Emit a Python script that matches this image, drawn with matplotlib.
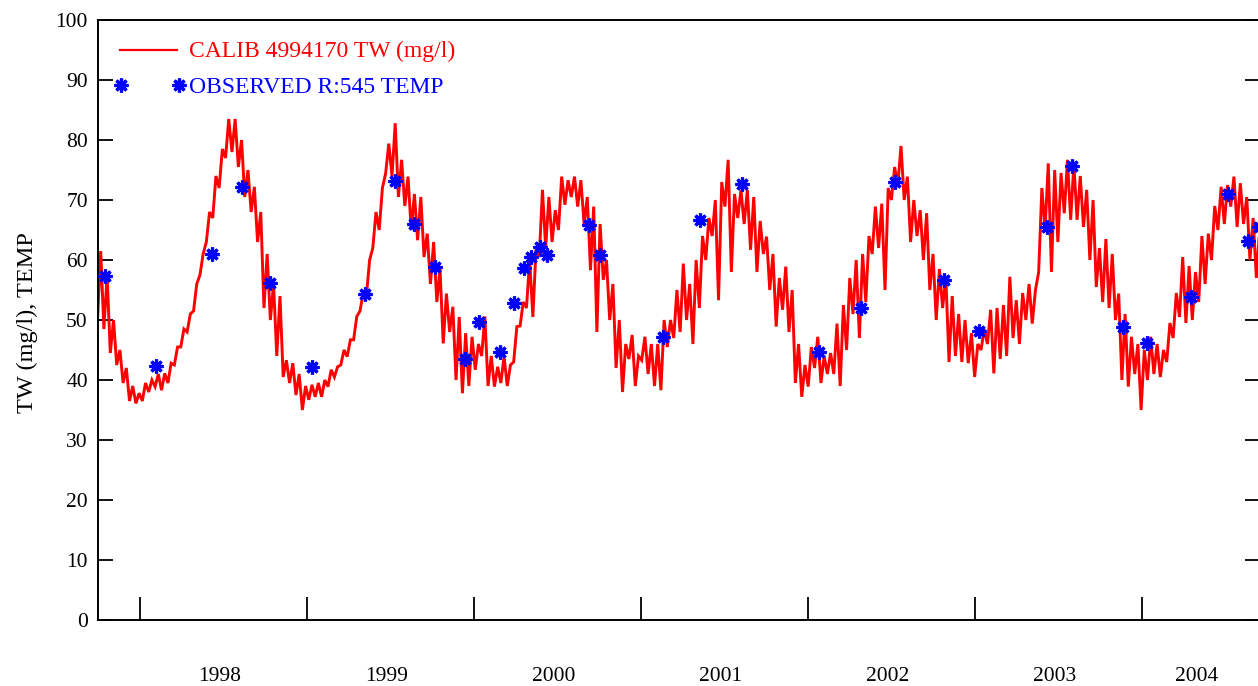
import numpy as np
import pandas as pd
import matplotlib
matplotlib.use("Agg")
import matplotlib.pyplot as plt
import matplotlib.dates as mdates
import matplotlib.transforms as mtransforms

# ---------------- data ----------------
# simulated series, read from the picture as low / high pairs every 14 days
calib_start = "1997-09-30"
calib_high = [61.5, 57.4, 50, 45, 42, 39, 37.8, 39.5, 40, 41, 41.1, 42.8, 45.5, 48.5, 51, 56,
              61, 68, 74, 78.5, 83.5, 83.5, 80, 75, 72.2, 68, 61, 56, 54, 43.3, 42.8, 41,
              39, 39.2, 39.5, 40, 41.7, 42.2, 45, 46.7, 50.6, 54.5, 60, 68, 72, 79.4, 82.8, 76.7,
              73.9, 71, 70.5, 64.4, 63, 58.5, 54.4, 52.2, 50.5, 47.8, 47.2, 46, 50.6, 44, 42.2, 43.9,
              42.5, 48.9, 53, 60, 62, 71.7, 70.5, 68.3, 73.9, 73.3, 73.9, 73.3, 70.5, 68.9, 66, 60,
              56, 50, 46, 47.5, 44, 47.2, 46, 46, 50, 50, 55, 59.4, 56, 60, 64, 67,
              70, 73, 76.7, 71, 71.7, 71.7, 70.5, 66.5, 63.9, 61, 57, 58.9, 55, 46, 42.5, 45.5,
              47.2, 44, 44.5, 49.4, 52.5, 57, 60, 61, 64, 68.9, 69.4, 72, 75.5, 79, 73.9, 70,
              68.3, 67.8, 61, 58.5, 57.2, 54, 51, 50, 47.8, 46, 48.5, 51.7, 52, 52.5, 57.2, 53.3,
              54.5, 56, 55, 72, 76.1, 75, 74.5, 76.7, 76, 74, 71.7, 70, 62, 63.5, 61, 54.4,
              51, 47.2, 46, 45, 47.2, 46, 45, 49.5, 54.5, 60.5, 59, 58, 64, 64.4, 69, 72.2,
              72.5, 73.9, 72.8, 70.5, 67, 65]
calib_low = [50, 48.5, 44.5, 42.5, 39.5, 36.5, 36.1, 36.5, 38, 38.9, 38.3, 39.5, 42.5, 45.5, 48, 51.5,
             57.5, 63, 67, 72, 77, 78, 75.5, 70.5, 68, 63, 52, 50, 44, 40.5, 39.5, 37.5,
             35, 36.7, 37.2, 37.2, 38.9, 40.5, 42.5, 43.9, 46.7, 51.5, 54, 62, 65, 74.4, 74, 70.5,
             69, 65, 63.3, 60.5, 56, 53, 46.1, 48, 40, 37.8, 39, 41.7, 44, 39, 38.9, 39.5,
             39, 43, 49, 52, 50.5, 60.5, 62, 63, 65, 69.2, 70.5, 68.9, 66, 58.3, 48, 56.7,
             50, 42, 38, 43.5, 39, 43.3, 41, 39, 38.3, 45.5, 47, 48, 50, 46, 52, 60,
             64, 53.3, 68.9, 58, 67, 66, 61.7, 58, 61, 55, 48.9, 51.7, 48, 39.5, 37.2, 38.9,
             42, 39.5, 41, 41, 39, 45, 51, 47, 53, 61, 62, 55, 70, 72.5, 70, 63,
             64, 60, 55, 50, 52, 43, 44, 43, 42.8, 40.5, 45, 46, 41.1, 43.5, 44, 47,
             46, 50, 49.4, 58, 65, 58, 63, 67.8, 66.7, 66.7, 65.5, 60, 55.5, 53, 52, 50,
             40, 38.9, 41, 35, 40, 41, 40.5, 43, 47, 50.5, 49.5, 50, 53, 56, 60, 65,
             66, 68.9, 65.5, 66, 60, 57]

obs_dates = ["1997-10-17", "1998-02-05", "1998-06-07", "1998-08-12", "1998-10-12",
             "1999-01-12", "1999-05-08", "1999-07-12", "1999-08-23", "1999-10-08",
             "1999-12-13", "2000-01-12", "2000-02-27", "2000-03-29", "2000-04-20",
             "2000-05-05", "2000-05-25", "2000-06-09", "2000-09-09", "2000-10-03",
             "2001-02-18", "2001-05-10", "2001-08-10", "2002-01-25", "2002-04-27",
             "2002-07-10", "2002-10-25", "2003-01-10", "2003-06-08", "2003-08-01",
             "2003-11-21", "2004-01-12", "2004-04-17", "2004-07-07", "2004-08-20",
             "2004-09-13"]
obs_values = [57.4, 42.3, 61.0, 72.2, 56.2, 42.2, 54.3, 73.2, 66.0, 58.9,
              43.5, 49.7, 44.6, 52.8, 58.7, 60.5, 62.2, 60.8, 65.8, 60.8,
              47.2, 66.7, 72.6, 44.7, 52.0, 73.0, 56.7, 48.2, 65.5, 75.7,
              48.8, 46.1, 53.9, 71.0, 63.2, 65.5]

year_labels = ["1998", "1999", "2000", "2001", "2002", "2003", "2004"]
y_ticks = list(range(0, 101, 10))
legend_calib = "CALIB 4994170 TW (mg/l)"
legend_obs = "OBSERVED R:545 TEMP"
y_label = "TW (mg/l), TEMP"

# ---------------- figure ----------------
RED = "#ff0000"
BLUE = "#0000ff"
SERIF = "Liberation Serif"

W, H = 1258, 686
fig = plt.figure(figsize=(W / 100, H / 100), dpi=100)
ax_left, ax_right, ax_top, ax_bottom = 97.5, 1260, 20, 620
ax = fig.add_axes([ax_left / W, (H - ax_bottom) / H,
                   (ax_right - ax_left) / W, (ax_bottom - ax_top) / H])

# interleave low/high into a weekly series
vals = np.empty(2 * len(calib_low))
vals[0::2] = calib_low
vals[1::2] = calib_high
dates = pd.date_range(calib_start, periods=len(vals), freq="7D")
ax.plot(dates, vals, color=RED, lw=2.1, solid_joinstyle="miter", zorder=2)

ax.plot(pd.to_datetime(obs_dates), obs_values, linestyle="none",
        marker=(8, 2, 0), markersize=10, markeredgewidth=2.3,
        color=BLUE, markeredgecolor=BLUE, zorder=3)

x0 = pd.Timestamp("1997-09-30")
x1 = pd.Timestamp("2004-09-15")
ax.set_xlim(x0, x1)
ax.set_ylim(0, 100)

# year boundary ticks
years = [int(y) for y in year_labels]
ax.set_xticks([pd.Timestamp(f"{y}-01-01") for y in years])
ax.set_xticklabels([])
ax.tick_params(axis="x", direction="in", length=16.5, width=1.3, color="black")

# year labels centred in visible part of each year
trans = mtransforms.blended_transform_factory(ax.transData, ax.transAxes)
for y, lab in zip(years, year_labels):
    a = max(pd.Timestamp(f"{y}-01-01"), x0)
    b = min(pd.Timestamp(f"{y + 1}-01-01"), x1)
    mid = a + (b - a) / 2 - pd.Timedelta(days=9)
    ax.text(mdates.date2num(mid), -0.1017, lab, transform=trans,
            ha="center", va="baseline", fontsize=15.5, family=SERIF)

ax.set_yticks(y_ticks)
ax.set_yticklabels([str(v) for v in y_ticks], family=SERIF, fontsize=15.5)
ax.tick_params(axis="y", direction="in", length=10.8, width=1.3, pad=7,
               right=True, color="black")

for s in ax.spines.values():
    s.set_linewidth(1.4)
    s.set_color("black")

# legend (drawn manually to match layout)
def axx(px):
    return (px - ax_left) / (ax_right - ax_left)

def axy(py):
    return (ax_bottom - py) / (ax_bottom - ax_top)

ax.plot([axx(120), axx(177)], [axy(50), axy(50)], color=RED, lw=1.6,
        transform=ax.transAxes, clip_on=False)
ax.text(axx(189), axy(57), legend_calib, color=RED, fontsize=17, family=SERIF,
        ha="left", va="baseline", transform=ax.transAxes)
ax.plot([axx(121), axx(179)], [axy(85), axy(85)], linestyle="none",
        marker=(8, 2, 0), markersize=10, markeredgewidth=2.3,
        color=BLUE, transform=ax.transAxes, clip_on=False)
ax.text(axx(189), axy(93), legend_obs, color=BLUE, fontsize=17, family=SERIF,
        ha="left", va="baseline", transform=ax.transAxes)

fig.text(27 / W, 1 - 323 / H, y_label, rotation=90, ha="center", va="center",
         fontsize=17.5, family=SERIF)

fig.savefig("out.png", dpi=100, facecolor="white")
